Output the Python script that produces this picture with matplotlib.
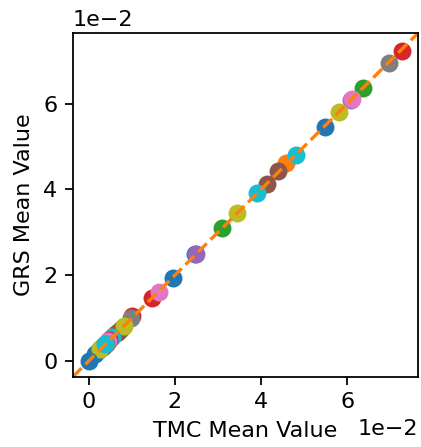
import numpy as np
import matplotlib.pyplot as plt

# mean values (x: TMC, y: GRS), plotting order follows the colour cycle
tmc_mean = [5.49, 4.58, 6.37, 7.28, 6.10, 4.40, 6.12, 6.98, 5.81, 4.81,
            2.48, 0.30, 3.09, 1.47, 2.50, 4.14, 1.63, 0.75, 3.44, 3.91,
            1.95, 0.62, 0.40, 1.02, 0.25, 0.68, 0.45, 0.99, 0.82, 0.55,
            0.15, 0.42, 0.30, 0.48, 0.36, 0.33, 0.45, 0.40, 0.27, 0.38,
            0.00]
grs_mean = [5.46, 4.61, 6.37, 7.22, 6.08, 4.42, 6.11, 6.94, 5.81, 4.81,
            2.50, 0.31, 3.10, 1.48, 2.49, 4.12, 1.62, 0.76, 3.45, 3.91,
            1.94, 0.63, 0.41, 1.05, 0.26, 0.69, 0.46, 1.01, 0.82, 0.56,
            0.16, 0.43, 0.31, 0.49, 0.37, 0.34, 0.46, 0.41, 0.28, 0.39,
            0.00]

x = np.array(tmc_mean) * 1e-2
y = np.array(grs_mean) * 1e-2

fig = plt.figure(figsize=(421 / 160, 447 / 160), dpi=160)
ax = fig.add_axes([0.173, 0.157, 0.82, 0.769])

for xi, yi in zip(x, y):
    ax.scatter(xi, yi, s=50)

ax.margins(0.05)
ax.autoscale_view()
lo = min(ax.get_xlim()[0], ax.get_ylim()[0])
hi = max(ax.get_xlim()[1], ax.get_ylim()[1])
ax.plot([lo, hi], [lo, hi], '--', color='C1')
ax.set_xlim(lo, hi)
ax.set_ylim(lo, hi)

ax.ticklabel_format(style='sci', scilimits=(0, 0))
ax.set_xlabel('TMC Mean Value')
ax.set_ylabel('GRS Mean Value')

fig.savefig('out.png', dpi=160)
